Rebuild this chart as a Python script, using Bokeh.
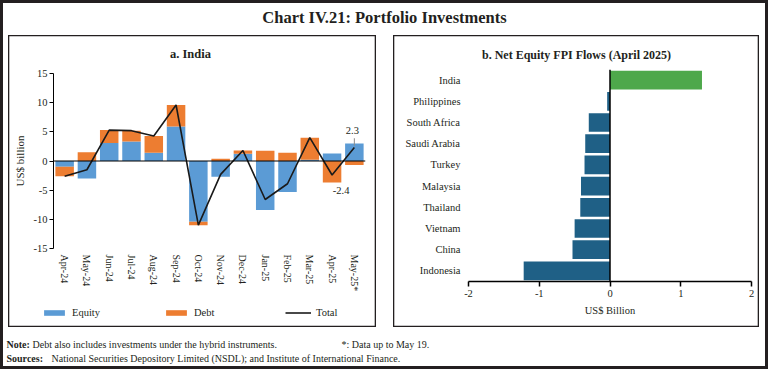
from bokeh.plotting import figure
from bokeh.models import (FactorRange, Range1d, ColumnDataSource, Legend, LegendItem,
                          Span, Spacer, NumeralTickFormatter)
from bokeh.layouts import column, row
from bokeh.embed import file_html
from bokeh.resources import INLINE
from bokeh.core.properties import value

# ---------------- data ----------------
months = ["Apr-24", "May-24", "Jun-24", "Jul-24", "Aug-24", "Sep-24", "Oct-24",
          "Nov-24", "Dec-24", "Jan-25", "Feb-25", "Mar-25", "Apr-25", "May-25*"]
equity = [-1.0, -3.0, 3.1, 3.35, 1.4, 5.9, -10.4, -2.7, 1.25, -8.4, -5.3, 0.2, 1.3, 3.0]
debt = [-1.6, 1.5, 2.2, 1.85, 2.9, 3.7, -0.6, 0.4, 0.55, 1.75, 1.4, 3.8, -3.7, -0.7]
total = [-2.6, -1.5, 5.3, 5.2, 4.3, 9.6, -11.0, -2.3, 1.8, -6.6, -3.9, 4.0, -2.4, 2.3]
y_ticks_a = [-15, -10, -5, 0, 5, 10, 15]

countries = ["India", "Philippines", "South Africa", "Saudi Arabia", "Turkey",
             "Malaysia", "Thailand", "Vietnam", "China", "Indonesia"]
flows = [1.30, -0.04, -0.30, -0.35, -0.36, -0.41, -0.42, -0.50, -0.53, -1.22]
x_ticks_b = [-2, -1, 0, 1, 2]

FONT = "Liberation Serif"
INK = "#231f20"
BLUE = "#5B9BD5"
ORANGE = "#ED7D31"
GREEN = "#4EA84B"
TEAL = "#1F6086"


def blank(w, h):
    f = figure(width=w, height=h, x_range=Range1d(0, w), y_range=Range1d(0, h),
               output_backend="svg", toolbar_location=None, min_border=0,
               x_axis_location=None, y_axis_location=None, frame_align=False,
               border_fill_color=None, background_fill_color=None, outline_line_color=None)
    f.grid.visible = False
    return f


def strip_text(f, x, y, txt, size, style="normal", align="center"):
    f.text(x=[x], y=[y], text=[txt], text_font=value(FONT), text_font_size=size,
           text_font_style=style, text_align=align, text_baseline="middle", text_color=INK)


# ---------------- title strip ----------------
tf = blank(768, 35)
strip_text(tf, 384, 18, "Chart IV.21: Portfolio Investments", "16.5px", "bold")

# ---------------- panel a ----------------
d_bottom = [e if (e >= 0) == (d >= 0) else 0 for e, d in zip(equity, debt)]
d_top = [b + d for b, d in zip(d_bottom, debt)]
src_a = ColumnDataSource(dict(m=months, eb=[0] * len(months), et=equity,
                              db=d_bottom, dt=d_top, total=total))

ta = blank(368, 30)
strip_text(ta, 182, 11.3, "a. India", "12.5px", "bold")

pa = figure(x_range=FactorRange(*months), y_range=Range1d(-15, 15),
            width=368, height=229, output_backend="svg", toolbar_location=None,
            min_border_left=45, min_border_right=11, min_border_top=8, min_border_bottom=40,
            frame_align=False,
            border_fill_color=None, background_fill_color=None, outline_line_color=None)
pa.grid.visible = False

pa.vbar(x="m", bottom="eb", top="et", width=0.83, fill_color=BLUE,
        line_color=None, source=src_a)
pa.vbar(x="m", bottom="db", top="dt", width=0.83, fill_color=ORANGE,
        line_color=None, source=src_a)
pa.add_layout(Span(location=0, dimension="width", line_color="black", line_width=1.2))
pa.line(x="m", y="total", line_color="#1a1a1a", line_width=1.6, source=src_a)

# value labels for the last two months
lab_src = ColumnDataSource(dict(x=[months[-1], months[-2]], y=[total[-1], total[-2]],
                                t=[f"{total[-1]:.1f}", f"{total[-2]:.1f}"],
                                xo=[-2, 9], yo=[-17, 15]))
pa.text(x="x", y="y", text="t", x_offset="xo", y_offset="yo", source=lab_src,
        text_font=value(FONT), text_font_size="10.5px", text_align="center",
        text_baseline="middle", text_color=INK)
pa.segment(x0=[months[-1]], y0=[total[-1] + 0.3], x1=[months[-1]], y1=[total[-1] + 1.6],
           line_color="#8c8c8c", line_width=1)

ya = pa.yaxis[0]
ya.ticker = y_ticks_a
ya.formatter = NumeralTickFormatter(format="0")
ya.axis_line_color = "black"
ya.major_tick_line_color = "black"
ya.major_tick_out = 4
ya.major_tick_in = 0
ya.minor_tick_line_color = None
ya.major_label_standoff = 2
ya.major_label_text_font = FONT
ya.major_label_text_font_size = "10.5px"
ya.major_label_text_color = INK
ya.axis_label = "US$ billion"
ya.axis_label_text_font = FONT
ya.axis_label_text_font_size = "11px"
ya.axis_label_text_font_style = "normal"
ya.axis_label_text_color = INK
ya.axis_label_standoff = 5

xa = pa.xaxis[0]
xa.axis_line_color = None
xa.major_tick_line_color = None
xa.major_tick_out = 0
xa.major_tick_in = 0
xa.major_label_orientation = "vertical"
xa.major_label_standoff = 6
xa.major_label_text_font = FONT
xa.major_label_text_font_size = "10px"
xa.major_label_text_color = INK

# legend strip: proxy renderers (zero-size, off-screen) carry the chart's glyph styles
la = blank(368, 33)
g_eq = la.vbar(x=[-50], bottom=[-50], top=[-50], width=0, fill_color=BLUE, line_color=None)
g_debt = la.vbar(x=[-50], bottom=[-50], top=[-50], width=0, fill_color=ORANGE, line_color=None)
g_tot = la.line(x=[-50, -49], y=[-50, -50], line_color="#1a1a1a", line_width=1.6)
lg = Legend(items=[LegendItem(label="Equity", renderers=[g_eq]),
                   LegendItem(label="Debt", renderers=[g_debt]),
                   LegendItem(label="Total", renderers=[g_tot])],
            location=(33, 8), orientation="horizontal", glyph_width=26, glyph_height=7,
            label_standoff=5, label_width=91, spacing=0, padding=0, margin=0,
            label_height=14, border_line_color=None, background_fill_alpha=0,
            label_text_font=FONT, label_text_font_size="10.5px", label_text_color=INK)
la.add_layout(lg)

panel_a = column(ta, pa, la, spacing=0, width=368, height=292)
panel_a.styles = {"box-shadow": "inset 0 0 0 1.3px " + INK}

# ---------------- panel b ----------------
src_b = ColumnDataSource(dict(c=countries, v=flows,
                              col=[GREEN if v > 0 else TEAL for v in flows]))
tb = blank(366, 30)
strip_text(tb, 183, 10.3, "b. Net Equity FPI Flows (April 2025)", "12px", "bold")

pb = figure(y_range=FactorRange(*countries[::-1]), x_range=Range1d(-2, 2),
            width=366, height=262, output_backend="svg", toolbar_location=None,
            min_border_left=75, min_border_right=8, min_border_top=4, min_border_bottom=46,
            frame_align=False,
            border_fill_color=None, background_fill_color=None, outline_line_color=None)
pb.grid.visible = False
pb.hbar(y="c", left=0, right="v", height=0.88, fill_color="col", line_color=None,
        source=src_b)
pb.add_layout(Span(location=0, dimension="height", line_color="black", line_width=1.5))

xb = pb.xaxis[0]
xb.ticker = x_ticks_b
xb.formatter = NumeralTickFormatter(format="0")
xb.axis_line_color = "black"
xb.axis_line_width = 1.5
xb.major_tick_line_color = "black"
xb.major_tick_line_width = 1.5
xb.major_tick_out = 5
xb.major_tick_in = 0
xb.minor_tick_line_color = None
xb.major_label_standoff = 3
xb.major_label_text_font = FONT
xb.major_label_text_font_size = "10.5px"
xb.major_label_text_color = INK
xb.axis_label = "US$ Billion"
xb.axis_label_text_font = FONT
xb.axis_label_text_font_size = "10.5px"
xb.axis_label_text_font_style = "normal"
xb.axis_label_text_color = INK
xb.axis_label_standoff = 5

yb = pb.yaxis[0]
yb.axis_line_color = None
yb.major_tick_line_color = None
yb.major_tick_out = 0
yb.major_tick_in = 0
yb.major_label_standoff = 8
yb.major_label_text_font = FONT
yb.major_label_text_font_size = "10.5px"
yb.major_label_text_color = INK

panel_b = column(tb, pb, spacing=0, width=366, height=292)
panel_b.styles = {"box-shadow": "inset 0 0 0 1.3px " + INK}

# ---------------- notes strip ----------------
nf = blank(768, 42)
common = dict(text_font=value(FONT), text_font_size="10px", text_baseline="middle",
              text_align="left", text_color=INK)
nf.text(x=[6, 6], y=[25.5, 11.5], text=["Note:", "Sources:"], text_font_style="bold", **common)
nf.text(x=[32, 341, 51], y=[25.5, 25.5, 11.5],
        text=["Debt also includes investments under the hybrid instruments.",
              "*: Data up to May 19.",
              "National Securities Depository Limited (NSDL); and Institute of International Finance."],
        **common)

mid = row(Spacer(width=8, height=292), panel_a, Spacer(width=17, height=292), panel_b,
          Spacer(width=9, height=292), spacing=0)
page = column(tf, mid, nf, spacing=0, width=768, height=369)
page.styles = {"box-shadow": "inset 0 0 0 3px " + INK}

open("out.html", "w").write(file_html(page, INLINE))
